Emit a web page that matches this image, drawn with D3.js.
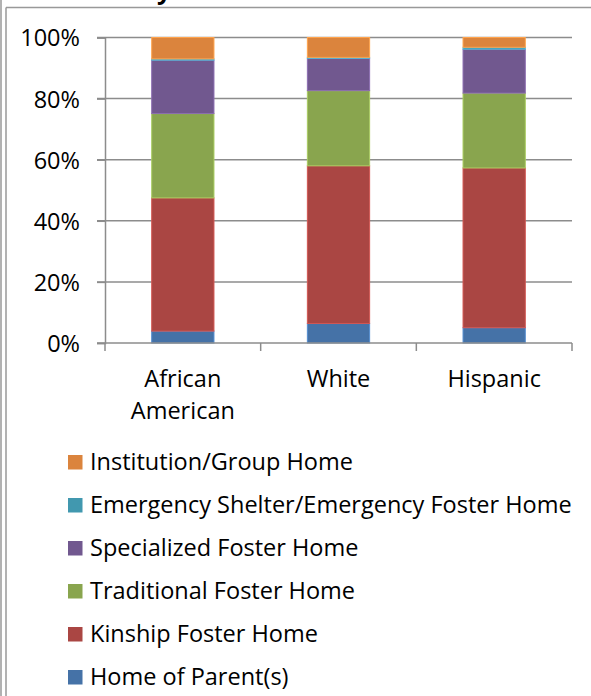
<!DOCTYPE html>
<html><head><meta charset="utf-8">
<script src="https://cdn.jsdelivr.net/npm/d3@7"></script>
<style>html,body{margin:0;padding:0;background:#fff;}svg{display:block;}</style>
</head><body>
<svg id="c" width="591" height="696"></svg>
<script>
const categories = ["African American", "White", "Hispanic"];
const categoryLines = [["African", "American"], ["White"], ["Hispanic"]];
const seriesNames = ["Home of Parent(s)", "Kinship Foster Home", "Traditional Foster Home", "Specialized Foster Home", "Emergency Shelter/Emergency Foster Home", "Institution/Group Home"];
const seriesColors = ["#4572A7", "#AA4643", "#89A54E", "#71588F", "#4198AF", "#DB843D"];
const homeOfParent = [3.9, 6.4, 5.0];
const kinship = [43.6, 51.6, 52.3];
const traditional = [27.6, 24.6, 24.5];
const specialized = [17.5, 10.6, 14.4];
const emergency = [0.4, 0.3, 0.6];
const institution = [7.0, 6.5, 3.2];
const yTicks = [0, 0.2, 0.4, 0.6, 0.8, 1.0];

const seriesValues = [homeOfParent, kinship, traditional, specialized, emergency, institution];
const rows = categories.map((c, i) => {
  const r = {cat: c};
  seriesNames.forEach((s, j) => r[s] = seriesValues[j][i]);
  return r;
});
const stack = d3.stack().keys(seriesNames).offset(d3.stackOffsetExpand)(rows);

const svg = d3.select("#c");
const font = "'Open Sans', sans-serif";
const fs = 23.5;
const gridColor = "#8c8c8c";

// frame
svg.append("line").attr("x1", 1).attr("x2", 1).attr("y1", 0).attr("y2", 696).attr("stroke", "#999").attr("stroke-width", 1.5);
svg.append("line").attr("x1", 6).attr("x2", 6).attr("y1", 7.5).attr("y2", 696).attr("stroke", "#999").attr("stroke-width", 1.5);
svg.append("line").attr("x1", 6).attr("x2", 591).attr("y1", 7.5).attr("y2", 7.5).attr("stroke", "#999").attr("stroke-width", 1.5);
// clipped title fragment
svg.append("text").attr("x", 157).attr("y", -1.5).attr("font-family", font).attr("font-weight", "bold").attr("font-size", 25).text("y");

const x = d3.scaleBand().domain(categories).range([105, 572]).paddingInner(0.6).paddingOuter(0.3);
const y = d3.scaleLinear().domain([0, 1]).range([343, 37.5]);

// gridlines
svg.append("g").selectAll("line").data(yTicks.slice(1)).join("line")
  .attr("x1", 97).attr("x2", 572).attr("y1", d => y(d)).attr("y2", d => y(d))
  .attr("stroke", gridColor).attr("stroke-width", 1.5);

// y axis
const yAxis = svg.append("g").attr("transform", "translate(105,0)")
  .call(d3.axisLeft(y).tickValues(yTicks).tickFormat(d3.format(".0%")).tickSize(8).tickPadding(17));
yAxis.select(".domain").attr("stroke", gridColor).attr("stroke-width", 1.5);
yAxis.selectAll(".tick line").attr("stroke", gridColor).attr("stroke-width", 1.5);
yAxis.selectAll("text").attr("font-family", font).attr("font-size", fs).attr("fill", "#000").attr("dy", "0.36em");

// bars
svg.append("g").selectAll("g").data(stack).join("g")
  .attr("fill", (d, i) => seriesColors[i])
  .attr("stroke", (d, i) => d3.color(seriesColors[i]).brighter(0.6))
  .attr("stroke-width", 1)
  .selectAll("rect").data(d => d).join("rect")
  .attr("x", d => x(d.data.cat)).attr("width", x.bandwidth())
  .attr("y", d => y(d[1])).attr("height", d => y(d[0]) - y(d[1]));

// x axis
const step = x.step();
const bounds = [x(categories[0]) + x.bandwidth() / 2 - step / 2].concat(categories.map(c => x(c) + x.bandwidth() / 2 + step / 2));
svg.append("line").attr("x1", 97).attr("x2", 572).attr("y1", y(0)).attr("y2", y(0)).attr("stroke", gridColor).attr("stroke-width", 1.5);
svg.append("g").selectAll("line").data(bounds).join("line")
  .attr("x1", d => d).attr("x2", d => d).attr("y1", y(0)).attr("y2", y(0) + 8)
  .attr("stroke", gridColor).attr("stroke-width", 1.5);
svg.append("g").selectAll("text").data(categories).join("text")
  .attr("x", d => x(d) + x.bandwidth() / 2).attr("y", 387)
  .attr("text-anchor", "middle").attr("font-family", font).attr("font-size", fs).attr("fill", "#000")
  .each(function(d, i) {
    d3.select(this).selectAll("tspan").data(categoryLines[i]).join("tspan")
      .attr("x", x(d) + x.bandwidth() / 2).attr("dy", (t, k) => k === 0 ? 0 : 32).text(t => t);
  });

// legend
const legendOrder = seriesNames.map((s, i) => i).reverse();
const lg = svg.append("g").selectAll("g").data(legendOrder).join("g")
  .attr("transform", (d, k) => `translate(68,${462 + k * 43})`);
lg.append("rect").attr("x", 0).attr("y", -7).attr("width", 14.5).attr("height", 14.5).attr("fill", d => seriesColors[d]);
lg.append("text").attr("x", 22).attr("y", 0).attr("dy", "0.36em").attr("font-family", font).attr("font-size", fs).attr("fill", "#000").text(d => seriesNames[d]);
</script>
</body></html>
